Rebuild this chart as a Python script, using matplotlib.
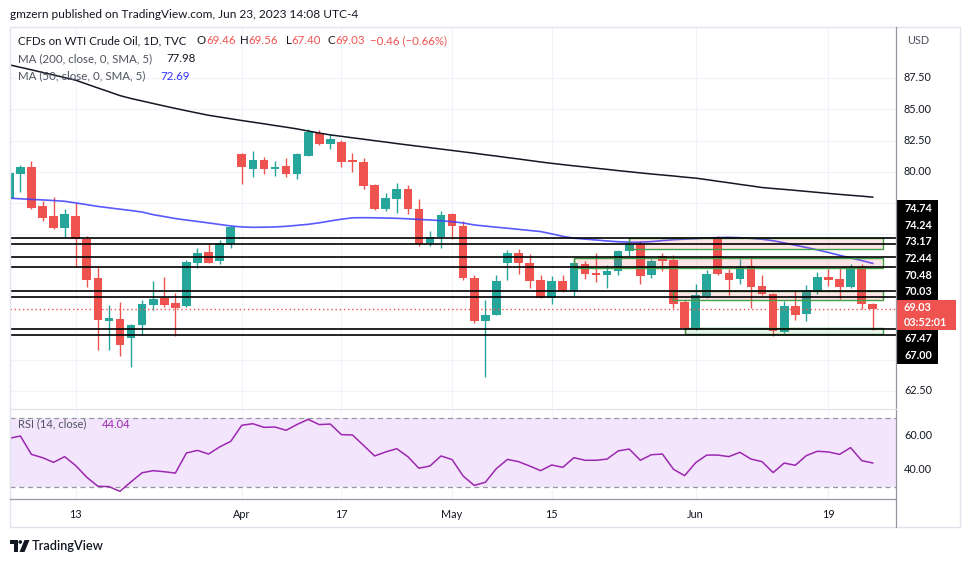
import matplotlib
matplotlib.use("Agg")
import matplotlib.pyplot as plt
import numpy as np
from matplotlib.patches import Rectangle, Polygon, Circle

W, H, DPI = 970, 563, 100
plt.rcParams['font.family'] = ['Lato', 'DejaVu Sans']

# ---------------- data ----------------
opens = [77.8, 79.8, 80.4, 77.3, 76.5, 75.5, 76.5, 74.6, 71.5, 68.1,
         68.25, 66.7, 67.8, 69.4, 69.9, 69.5, 69.3, 72.75, 73.6, 72.85,
         74.25, 81.4, 80.25, 80.95, 80.25, 80.45, 79.8, 81.3, 83.1, 82.25,
         82.4, 80.95, 80.8, 78.95, 77.0, 77.85, 78.65, 77.05, 74.35, 74.8,
         76.65, 75.7, 71.5, 68.1, 68.6, 72.75, 73.5, 72.7, 71.35, 69.95,
         71.3, 70.5, 72.65, 71.95, 71.8, 72.05, 73.65, 74.2, 71.8, 73.25,
         73.0, 69.6, 67.45, 70.0, 74.8, 71.95, 71.45, 72.5, 70.9, 70.25,
         67.2, 69.3, 68.65, 70.5, 71.6, 71.45, 70.8, 72.4, 69.46]
highs = [80.0, 80.55, 80.9, 77.7, 78.0, 77.0, 77.5, 74.9, 72.5, 69.4,
         69.6, 67.85, 69.8, 71.3, 71.6, 70.3, 73.0, 73.9, 74.3, 74.55,
         75.7, 81.5, 81.7, 81.2, 80.9, 81.1, 81.5, 83.45, 83.35, 83.0,
         82.55, 81.5, 81.1, 79.0, 78.3, 79.1, 78.95, 77.85, 75.3, 76.9,
         76.7, 76.1, 71.8, 69.8, 71.75, 73.75, 73.85, 73.45, 71.75, 71.7,
         71.75, 73.1, 72.85, 73.55, 72.55, 73.75, 74.7, 74.45, 73.05, 73.55,
         73.35, 69.75, 71.05, 72.15, 74.9, 72.25, 73.05, 73.2, 71.75, 70.3,
         69.7, 70.5, 70.95, 72.0, 72.25, 72.3, 72.65, 72.65, 69.56]
lows = [77.6, 78.4, 77.0, 76.1, 75.4, 74.8, 72.4, 70.8, 65.8, 65.8,
        65.3, 64.4, 67.0, 69.0, 69.2, 66.9, 69.2, 72.3, 72.7, 72.65,
        73.9, 79.05, 79.6, 79.8, 79.7, 79.6, 79.45, 81.25, 82.15, 81.8,
        80.4, 79.95, 78.6, 76.95, 76.85, 76.75, 76.6, 74.1, 74.05, 73.95,
        74.65, 71.4, 67.95, 63.65, 68.55, 71.4, 71.85, 70.75, 69.9, 69.45,
        70.4, 70.05, 71.45, 71.2, 70.75, 71.8, 73.25, 71.05, 71.55, 72.1,
        69.15, 67.05, 67.4, 69.95, 71.75, 70.15, 71.05, 69.1, 70.15, 66.9,
        67.15, 68.15, 68.1, 70.25, 70.9, 69.85, 70.75, 69.05, 67.40]
closes = [79.9, 80.4, 77.1, 76.3, 75.5, 76.6, 74.6, 71.4, 68.2, 68.3,
          66.2, 67.8, 69.45, 69.85, 69.4, 69.15, 72.8, 73.5, 72.75, 74.3,
          75.6, 80.35, 80.95, 80.2, 80.4, 79.8, 81.45, 83.2, 82.25, 82.6,
          80.8, 80.8, 78.9, 77.05, 77.9, 78.65, 77.0, 74.25, 74.8, 76.55,
          75.7, 71.5, 68.05, 68.55, 71.3, 73.5, 72.7, 71.3, 69.95, 71.3,
          70.45, 72.7, 71.85, 71.8, 72.1, 73.7, 74.2, 71.7, 72.85, 72.9,
          69.45, 67.55, 70.15, 71.85, 71.85, 71.4, 72.4, 70.8, 70.25, 67.3,
          69.3, 68.55, 70.55, 71.6, 71.4, 70.8, 72.3, 69.45, 69.03]
ma200 = [88.55, 88.35, 88.15, 87.94, 87.74, 87.53, 87.32, 87.01, 86.70, 86.40,
         86.09, 85.86, 85.66, 85.46, 85.26, 85.07, 84.88, 84.70, 84.52, 84.38,
         84.24, 84.10, 83.97, 83.84, 83.70, 83.57, 83.43, 83.26, 83.10, 82.95,
         82.84, 82.72, 82.61, 82.49, 82.38, 82.26, 82.15, 82.04, 81.93, 81.82,
         81.71, 81.60, 81.49, 81.37, 81.26, 81.14, 81.03, 80.91, 80.79, 80.68,
         80.58, 80.48, 80.39, 80.29, 80.20, 80.10, 80.01, 79.92, 79.83, 79.75,
         79.67, 79.58, 79.50, 79.38, 79.25, 79.13, 79.00, 78.88, 78.75, 78.67,
         78.60, 78.52, 78.44, 78.36, 78.28, 78.20, 78.13, 78.06, 77.98]
ma50 = [77.90, 77.85, 77.80, 77.76, 77.71, 77.65, 77.52, 77.38, 77.24, 77.13,
        77.02, 76.91, 76.79, 76.58, 76.43, 76.27, 76.15, 76.04, 75.92, 75.80,
        75.68, 75.60, 75.57, 75.58, 75.60, 75.65, 75.73, 75.81, 75.93, 76.08,
        76.22, 76.33, 76.34, 76.33, 76.31, 76.29, 76.25, 76.20, 76.16, 76.10,
        76.02, 75.92, 75.76, 75.67, 75.58, 75.50, 75.41, 75.32, 75.23, 75.05,
        74.85, 74.70, 74.63, 74.56, 74.48, 74.42, 74.38, 74.38, 74.43, 74.51,
        74.58, 74.63, 74.67, 74.72, 74.75, 74.77, 74.74, 74.69, 74.62, 74.50,
        74.33, 74.14, 73.96, 73.77, 73.56, 73.34, 73.13, 72.92, 72.69]
rsi = [58.3, 59.6, 49.0, 47.1, 44.4, 47.7, 42.5, 35.8, 30.6, 30.4,
       27.7, 33.2, 38.4, 39.6, 39.0, 38.2, 49.8, 51.3, 49.2, 53.3,
       56.5, 65.8, 66.7, 64.6, 64.8, 62.9, 66.3, 69.2, 66.2, 66.5,
       60.4, 60.2, 54.2, 48.1, 50.4, 52.3, 47.7, 41.0, 42.3, 48.1,
       46.0, 36.5, 31.1, 32.9, 40.8, 46.1, 44.8, 42.3, 39.6, 42.9,
       41.5, 47.1, 45.6, 45.6, 46.3, 51.0, 52.1, 45.6, 48.8, 49.2,
       40.4, 36.7, 44.2, 48.6, 48.6, 47.7, 50.2, 46.3, 44.8, 38.5,
       44.0, 42.7, 48.3, 50.8, 50.4, 49.0, 52.9, 45.4, 44.04]
tick_idx = [6, 21, 30, 40, 49, 62, 74]
tick_lbl = ["13", "Apr", "17", "May", "15", "Jun", "19"]
levels = [74.74, 74.24, 73.17, 72.44, 70.48, 70.03, 67.47, 67.00]
# zones: start bar, top, bottom, kind
zone_start = [56, 51, 60, 61]
zone_top = [74.74, 73.09, 70.49, 67.50]
zone_bot = [73.84, 72.30, 69.77, 67.05]
zone_kind = ["pink", "pink", "pink", "green"]
zone_end = 78.95
price_ticks = [62.5, 65.0, 67.5, 70.0, 72.5, 75.0, 77.5, 80.0, 82.5, 85.0, 87.5]

TEAL, RED = '#26a69a', '#ef5350'
TXT, GRAY = '#131722', '#50535e'

opens, highs, lows, closes = map(np.array, (opens, highs, lows, closes))
n = len(closes)
x = np.arange(n)

fig = plt.figure(figsize=(W / DPI, H / DPI), dpi=DPI)
fig.patch.set_facecolor('white')


def fr(x0, y0, x1, y1):
    return [x0 / W, 1 - y1 / H, (x1 - x0) / W, (y1 - y0) / H]


ax = fig.add_axes(fr(10, 27, 896, 408))
axr = fig.add_axes(fr(10, 410, 896, 499))
ov = fig.add_axes([0, 0, 1, 1], zorder=10)
ov.set_xlim(0, W); ov.set_ylim(H, 0); ov.axis('off'); ov.patch.set_alpha(0)

ax.set_xlim(0.063, 80.1); axr.set_xlim(0.063, 80.1)
ax.set_ylim(61.14, 91.57)
axr.set_ylim(23.25, 74.62)
for a in (ax, axr):
    a.set_xticks(tick_idx)
    a.tick_params(length=0, labelbottom=False, labelleft=False)
    for s in a.spines.values():
        s.set_visible(False)
    a.grid(True, color='#f0f3fa', lw=0.8, zorder=0)
    a.set_axisbelow(True)
ax.set_yticks(price_ticks)
axr.set_yticks([40, 60])

# candles
up = closes >= opens
col = np.where(up, TEAL, RED)
body_lo = np.minimum(opens, closes)
body_h = np.maximum(np.abs(closes - opens), 0.07)
ax.vlines(x, lows, highs, colors=col, lw=1.0, zorder=3)
ax.bar(x, body_h, bottom=body_lo, width=0.78, color=col, lw=0, zorder=4)

# moving averages
ax.plot(x, ma200, color='#131722', lw=1.1, zorder=5)
ax.plot(x, ma50, color='#3c3cff', lw=1.2, alpha=0.85, zorder=5)

# zones
for s, t, b, k in zip(zone_start, zone_top, zone_bot, zone_kind):
    fc = (0.949, 0.212, 0.271, 0.13) if k == "pink" else (0.298, 0.686, 0.314, 0.13)
    ax.add_patch(Rectangle((s, b), zone_end - s, t - b, facecolor=fc,
                           edgecolor='#43a047', lw=1.0, zorder=6))

# horizontal levels
for lv in levels:
    ax.axhline(lv, color='black', lw=1.2, zorder=7)
ax.axhline(closes[-1], color=RED, lw=1.0, ls=(0, (1, 2)), zorder=7)

# RSI
axr.axhspan(30, 70, color='#f3e6fc', lw=0, zorder=1)
for v in (70, 30):
    axr.axhline(v, color='#9598a1', lw=0.9, ls=(0, (4, 3)), zorder=2)
axr.plot(x, rsi, color='#9c27b0', lw=1.1, zorder=3)


def py(a, v):
    return H - a.transData.transform((0, v))[1]


def pxl(a, i):
    return a.transData.transform((i, 0))[0]


# frames
ov.add_patch(Rectangle((10, 27), 950, 500, fill=False, edgecolor='#e0e3eb', lw=1))
ov.plot([896, 896], [27, 527], color='#9598a1', lw=0.9)
ov.plot([10, 896], [499, 499], color='#9598a1', lw=0.9)
ov.plot([10, 896], [409, 409], color='#e0e3eb', lw=0.9)

# time labels
for i, lb in zip(tick_idx, tick_lbl):
    ov.text(pxl(ax, i), 514, lb, ha='center', va='center', fontsize=7.8, color=TXT)

# price axis labels (stacked boxes)
box_top = 200.0
box_h = 16.7
red_h = 30.0
stack = sorted(levels + [closes[-1]], reverse=True)
yy = box_top
occupied = []
for v in stack:
    if v == closes[-1]:
        ov.add_patch(Rectangle((897, yy), 59, red_h, facecolor=RED, lw=0))
        ov.text(904, yy + 7.5, f"{v:.2f}", ha='left', va='center', fontsize=7.8,
                color='white', fontweight='bold')
        ov.text(904, yy + 22, "03:52:01", ha='left', va='center', fontsize=7.8,
                color='white', fontweight='bold')
        yy += red_h
    else:
        ov.add_patch(Rectangle((897, yy), 41, box_h + 0.3, facecolor='black', lw=0))
        ov.text(918, yy + box_h / 2, f"{v:.2f}", ha='center', va='center', fontsize=7.8,
                color='white', fontweight='bold')
        yy += box_h
box_bot = yy
for t in price_ticks:
    yp = py(ax, t)
    if box_top - 8 < yp < box_bot + 8 or yp < 35 or yp > 405:
        continue
    ov.text(904, yp, f"{t:.2f}", ha='left', va='center', fontsize=7.8, color=TXT)
ov.text(907, 41, "USD", ha='left', va='center', fontsize=7.8, color=GRAY)
for t in (60, 40):
    ov.text(904, py(axr, t), f"{t:.2f}", ha='left', va='center', fontsize=7.8, color=TXT)

# header and legends
ov.text(10, 15, "gmzern published on TradingView.com, Jun 23, 2023 14:08 UTC-4",
        ha='left', va='center', fontsize=8.6, color=TXT)

fig.canvas.draw()
R = fig.canvas.get_renderer()


def chain(x0, y0, pieces, fs=8.3):
    xx = x0
    for txt, c in pieces:
        t = ov.text(xx, y0, txt, ha='left', va='center', fontsize=fs, color=c)
        xx += t.get_window_extent(R).width
    return xx


ov.text(18, 41, "CFDs on WTI Crude Oil, 1D, TVC", ha='left', va='center', fontsize=8.3, color=TXT)
chain(197, 41, [("O", TXT), ("69.46", RED)])
chain(240, 41, [("H", TXT), ("69.56", RED)])
chain(286, 41, [("L", TXT), ("67.40", RED)])
chain(328, 41, [("C", TXT), ("69.03", RED)])
ov.text(370, 41, "\u22120.46 (\u22120.66%)", ha='left', va='center', fontsize=8.3, color=RED)
ov.text(18, 59, "MA (200, close, 0, SMA, 5)", ha='left', va='center', fontsize=8.3, color=GRAY)
ov.text(166, 59, "77.98", ha='left', va='center', fontsize=8.3, color=TXT)
ov.text(18, 76, "MA (50, close, 0, SMA, 5)", ha='left', va='center', fontsize=8.3, color=GRAY)
ov.text(160, 76, "72.69", ha='left', va='center', fontsize=8.3, color='#3232ff')
ov.text(18, 424, "RSI (14, close)", ha='left', va='center', fontsize=8.0, color=GRAY)
ov.text(102, 424, "44.04", ha='left', va='center', fontsize=8.0, color='#9c27b0')

# footer logo
ov.add_patch(Polygon([(10, 540), (18, 540), (18, 552), (14.5, 552), (14.5, 543.5), (10, 543.5)],
                     closed=True, color=TXT, lw=0))
ov.add_patch(Circle((20.3, 542), 1.8, color=TXT, lw=0))
ov.add_patch(Polygon([(24.5, 540), (29.5, 540), (24.5, 552), (19.5, 552)], closed=True, color=TXT, lw=0))
ov.text(32, 546.5, "TradingView", ha='left', va='center', fontsize=9.2, color=TXT, fontweight='semibold')

fig.savefig("out.png", dpi=DPI, facecolor='white')
